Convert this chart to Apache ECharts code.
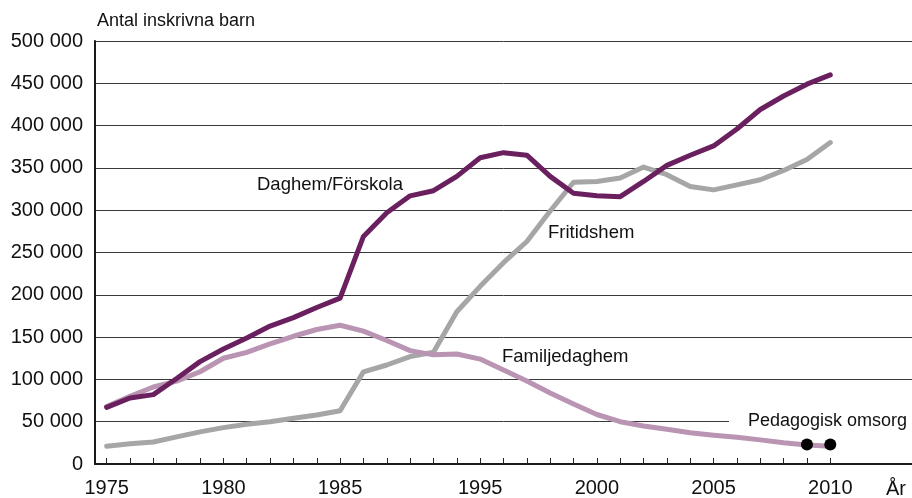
<!DOCTYPE html>
<html lang="sv">
  <head>
    <meta charset="UTF-8" />
    <title>Antal inskrivna barn</title>
    <script src="https://cdn.jsdelivr.net/npm/echarts@6/dist/echarts.min.js"></script>
    <style>
      body { margin: 0; background: #fff; }
    </style>
  </head>
  <body>
    <div id="main" style="width: 912px; height: 498px"></div>

    <script type="text/javascript">
      // år (1986-1994 finns bara för vissa år), tre tomma platser till höger
      const years = [
        "1975", "1976", "1977", "1978", "1979", "1980", "1981", "1982", "1983", "1984", "1985",
        "1987", "1989", "1991", "1993", "1994",
        "1995", "1996", "1997", "1998", "1999", "2000", "2001", "2002", "2003", "2004",
        "2005", "2006", "2007", "2008", "2009", "2010",
      ];
      const padCategories = ["", "", ""];

      const daghem = [
        67000, 78000, 82000, 101000, 121000, 136000, 149000, 163000, 173000, 185000, 196000,
        269000, 297000, 317000, 323000, 340000,
        362000, 368000, 365000, 340000, 320000, 317000, 316000, 334000, 353000, 365000,
        376000, 396000, 419000, 435000, 449000, 460000,
      ];
      const fritidshem = [
        21000, 24000, 26000, 32000, 38000, 43000, 47000, 50000, 54000, 58000, 63000,
        109000, 117000, 127000, 132000, 180000,
        210000, 238000, 263000, 299000, 333000, 334000, 338000, 351000, 342000, 328000,
        324000, 330000, 336000, 347000, 360000, 380000,
      ];
      const familjedaghem = [
        68000, 80000, 91000, 98000, 109000, 125000, 132000, 142000, 151000, 159000, 164000,
        157000, 146000, 134000, 129000, 130000,
        124000, 111000, 98000, 84000, 71000, 58500, 50000, 45000, 41000, 37000,
        34000, 31500, 28500, 25000, 22500, 21000,
      ];
      const pedagogiskYears = ["2009", "2010"];
      const pedagogisk = [23000, 23000];

      const font = "'Liberation Sans', Arial, sans-serif";
      const lineStyle = (color) => ({ color: color, width: 5, join: "round", cap: "round" });

      let myChart = echarts.init(document.getElementById("main"));

      const options = {
        animation: false,
        grid: { left: 95, right: 0, top: 41, bottom: 34 },
        xAxis: {
          type: "category",
          data: years.concat(padCategories),
          boundaryGap: true,
          axisLine: { show: true, lineStyle: { color: "#1a1a1a", width: 2 } },
          axisTick: {
            show: true,
            inside: true,
            length: 6,
            alignWithLabel: true,
            interval: (index, value) => value !== "",
            lineStyle: { color: "#222", width: 1 },
          },
          axisLabel: {
            interval: (index, value) => value !== "" && Number(value) % 5 === 0,
            margin: 14,
            fontSize: 20,
            fontFamily: font,
            color: "#111",
          },
          splitLine: { show: false },
        },
        yAxis: {
          type: "value",
          min: 0,
          max: 500000,
          interval: 50000,
          axisLine: { show: true, lineStyle: { color: "#1a1a1a", width: 2 } },
          axisTick: { show: false },
          axisLabel: {
            margin: 12,
            fontSize: 20,
            fontFamily: font,
            color: "#111",
            padding: [8, 0, 0, 0],
            formatter: (v) => (v === 0 ? "0" : v / 1000 + " 000"),
          },
          splitLine: { lineStyle: { color: "#3a3a3a", width: 1 } },
        },
        graphic: [
          {
            type: "text",
            left: 97,
            top: 12,
            style: { text: "Antal inskrivna barn", font: "18px " + font, fill: "#111" },
          },
          {
            type: "text",
            left: 886,
            top: 479,
            style: { text: "År", font: "20px " + font, fill: "#111" },
          },
          {
            type: "text",
            left: 257,
            top: 175,
            style: { text: "Daghem/Förskola", font: "18.5px " + font, fill: "#111" },
          },
          {
            type: "text",
            left: 548,
            top: 223,
            style: { text: "Fritidshem", font: "18.5px " + font, fill: "#111" },
          },
          {
            type: "text",
            left: 502,
            top: 347,
            style: { text: "Familjedaghem", font: "18.5px " + font, fill: "#111" },
          },
          {
            type: "rect",
            z: 1,
            shape: { x: 729, y: 414, width: 183, height: 17 },
            style: { fill: "#fff" },
          },
          {
            type: "text",
            left: 748,
            top: 412,
            z: 1,
            style: { text: "Pedagogisk omsorg", font: "18px " + font, fill: "#111" },
          },
        ],
        series: [
          {
            name: "Fritidshem",
            type: "line",
            z: 3,
            data: fritidshem,
            showSymbol: false,
            lineStyle: lineStyle("#a6a6a6"),
          },
          {
            name: "Familjedaghem",
            type: "line",
            z: 4,
            data: familjedaghem,
            showSymbol: false,
            lineStyle: lineStyle("#b994b3"),
          },
          {
            name: "Daghem/Förskola",
            type: "line",
            z: 5,
            data: daghem,
            showSymbol: false,
            lineStyle: lineStyle("#6a1f5f"),
          },
          {
            name: "Pedagogisk omsorg",
            type: "scatter",
            z: 6,
            symbol: "circle",
            symbolSize: 12,
            itemStyle: { color: "#000", opacity: 1 },
            data: pedagogiskYears.map((y, i) => [y, pedagogisk[i]]),
          },
        ],
      };

      myChart.setOption(options);
    </script>
  </body>
</html>
